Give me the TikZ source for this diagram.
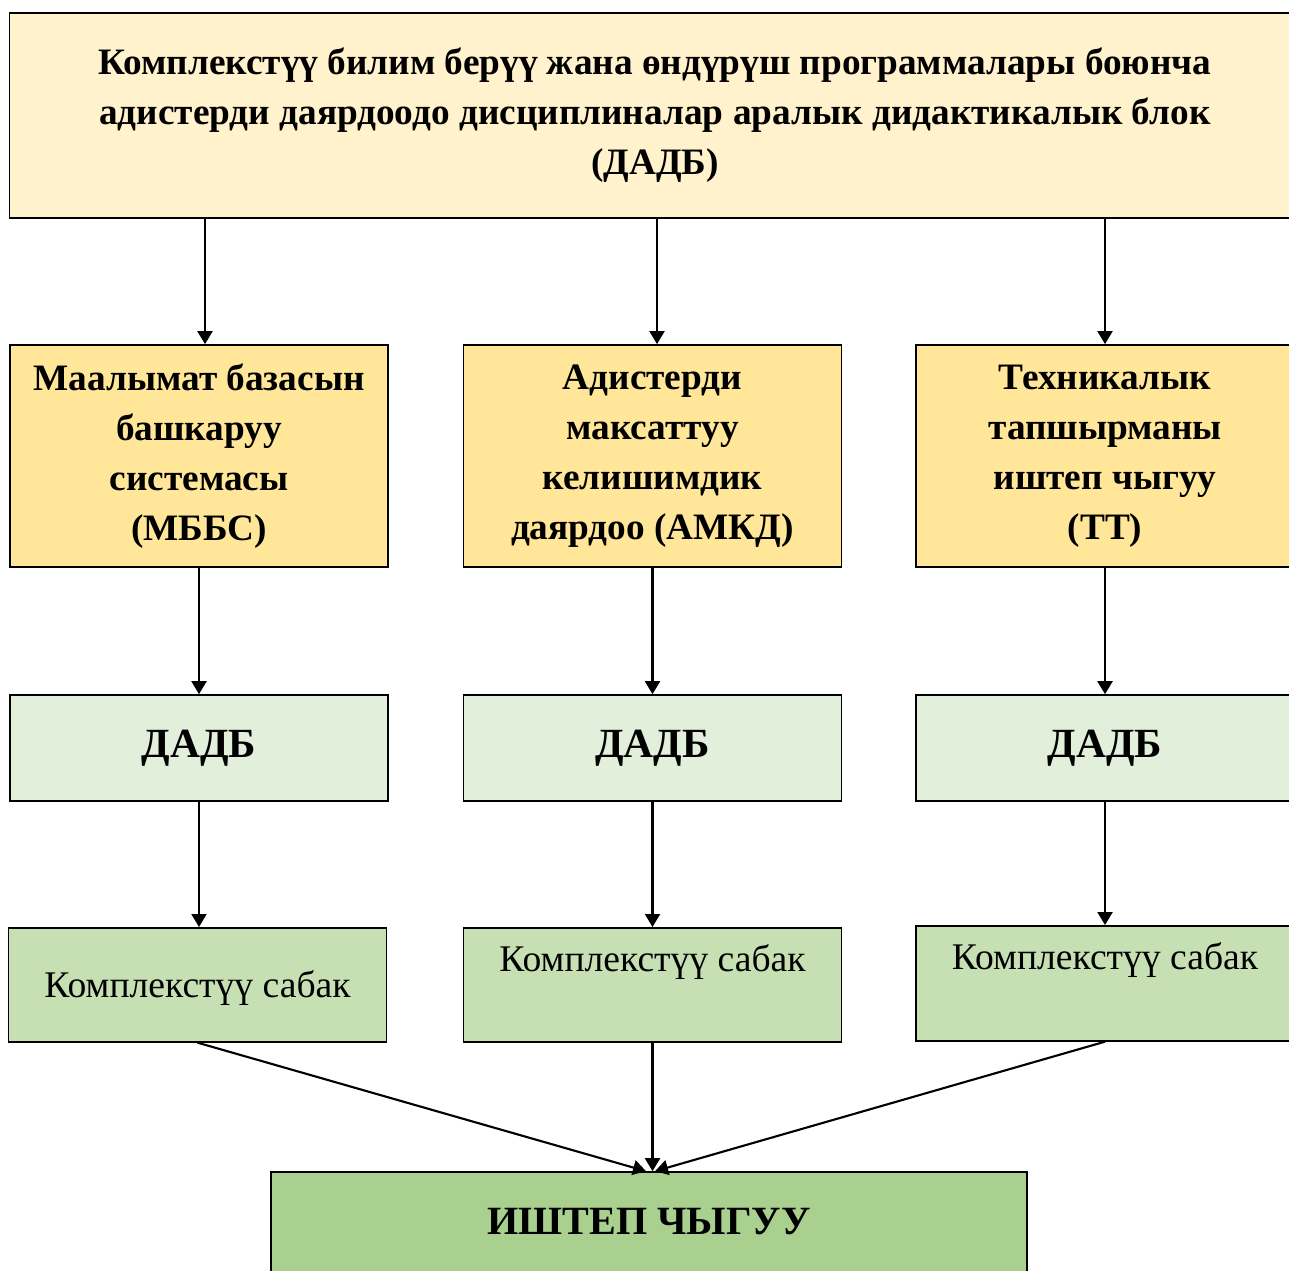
\documentclass[tikz,border=0pt]{standalone}
\usepackage{fontspec}
\setmainfont{Liberation Serif}
\usetikzlibrary{arrows.meta}
\definecolor{topfill}{HTML}{FFF2CC}
\definecolor{midfill}{HTML}{FFE699}
\definecolor{dadbfill}{HTML}{E2EFDA}
\definecolor{sabfill}{HTML}{C6E0B4}
\definecolor{outfill}{HTML}{A9D08E}
\tikzset{
	box/.style={draw=black, line width=0.45pt, minimum width=3.78cm, inner sep=0pt, align=center},
	bigtxt/.style={font=\bfseries\fontsize{10.6}{14.2}\selectfont},
	sabtxt/.style={font=\fontsize{10.7}{12}\selectfont},
	arr/.style={line width=0.6pt, -{Triangle[length=0.13cm,width=0.15cm]}}
}
\begin{document}
\begin{tikzpicture}[x=0.01cm,y=-0.01cm]
			%%%%% START %%%%%
			\def\xa{199}
			\def\xb{652.5}
			\def\xc{1105}
			\def\ymid{456}
			\def\ydadb{748}
			
			\useasboundingbox (0,0) rectangle (1289,1270);
			\clip (0,0) rectangle (1289,1270);
			
			\node[box, bigtxt, fill=topfill, minimum width=12.9cm, minimum height=2.05cm] (dadb) at (655,115.5) {Комплекстүү билим берүү жана өндүрүш программалары боюнча\\адистерди даярдоодо дисциплиналар аралык дидактикалык блок\\(ДАДБ)};
			
			\node[box, bigtxt, fill=midfill, minimum height=2.22cm] (mbbs) at (\xa,\ymid) {Маалымат базасын\\башкаруу\\системасы\\(МББС)};
			\node[box, bigtxt, fill=midfill, minimum height=2.22cm] (amkd) at (\xb,\ymid) {Адистерди\\максаттуу\\келишимдик\\даярдоо (АМКД)};
			\node[box, bigtxt, fill=midfill, minimum height=2.22cm] (tt) at (\xc,\ymid) {Техникалык\\тапшырманы\\иштеп чыгуу\\(ТТ)};
			
			\node[box, fill=dadbfill, minimum height=1.06cm, font=\bfseries\fontsize{11.8}{13}\selectfont] (da) at (\xa,\ydadb) {ДАДБ};
			\node[box, fill=dadbfill, minimum height=1.06cm, font=\bfseries\fontsize{11.8}{13}\selectfont] (db) at (\xb,\ydadb) {ДАДБ};
			\node[box, fill=dadbfill, minimum height=1.06cm, font=\bfseries\fontsize{11.8}{13}\selectfont] (dc) at (\xc,\ydadb) {ДАДБ};
			
			\node[box, sabtxt, fill=sabfill, text height=0.70cm, text depth=0.44cm, anchor=north] (sa) at (197.5,927) {Комплекстүү сабак};
			\node[box, sabtxt, fill=sabfill, text height=0.44cm, text depth=0.70cm, anchor=north] (sb) at (\xb,927) {Комплекстүү сабак};
			\node[box, sabtxt, fill=sabfill, text height=0.44cm, text depth=0.71cm, anchor=north] (sc) at (\xc,925) {Комплекстүү сабак};
			
			\node[box, fill=outfill, minimum width=7.56cm, minimum height=1.0cm, font=\bfseries\fontsize{11.4}{13}\selectfont] (out) at (649,1222) {ИШТЕП ЧЫГУУ};
			
			\draw[arr] ([xshift=0.06cm]dadb.south -| mbbs) -- ([xshift=0.06cm]mbbs.north);
			\draw[arr] ([xshift=0.045cm]dadb.south -| amkd) -- ([xshift=0.045cm]amkd.north);
			\draw[arr] (dadb.south -| tt) -- (tt);
			
			\draw[arr] (mbbs) -- (da);
			\draw[arr] (amkd) -- (db);
			\draw[arr] (tt) -- (dc);
			
			\draw[arr] (da.south) -- (da.south |- sa.north);
			\draw[arr] (db) -- (sb);
			\draw[arr] (dc.south) -- (sc.north);
			
			\draw[arr] (sa.south) -- ([xshift=-0.03cm]out.north);
			\draw[arr] (sb.south) -- (sb.south |- out.north);
			\draw[arr] (sc.south) -- ([xshift=0.06cm]out.north);
			%%%%% END %%%%%
\end{tikzpicture}
\end{document}
